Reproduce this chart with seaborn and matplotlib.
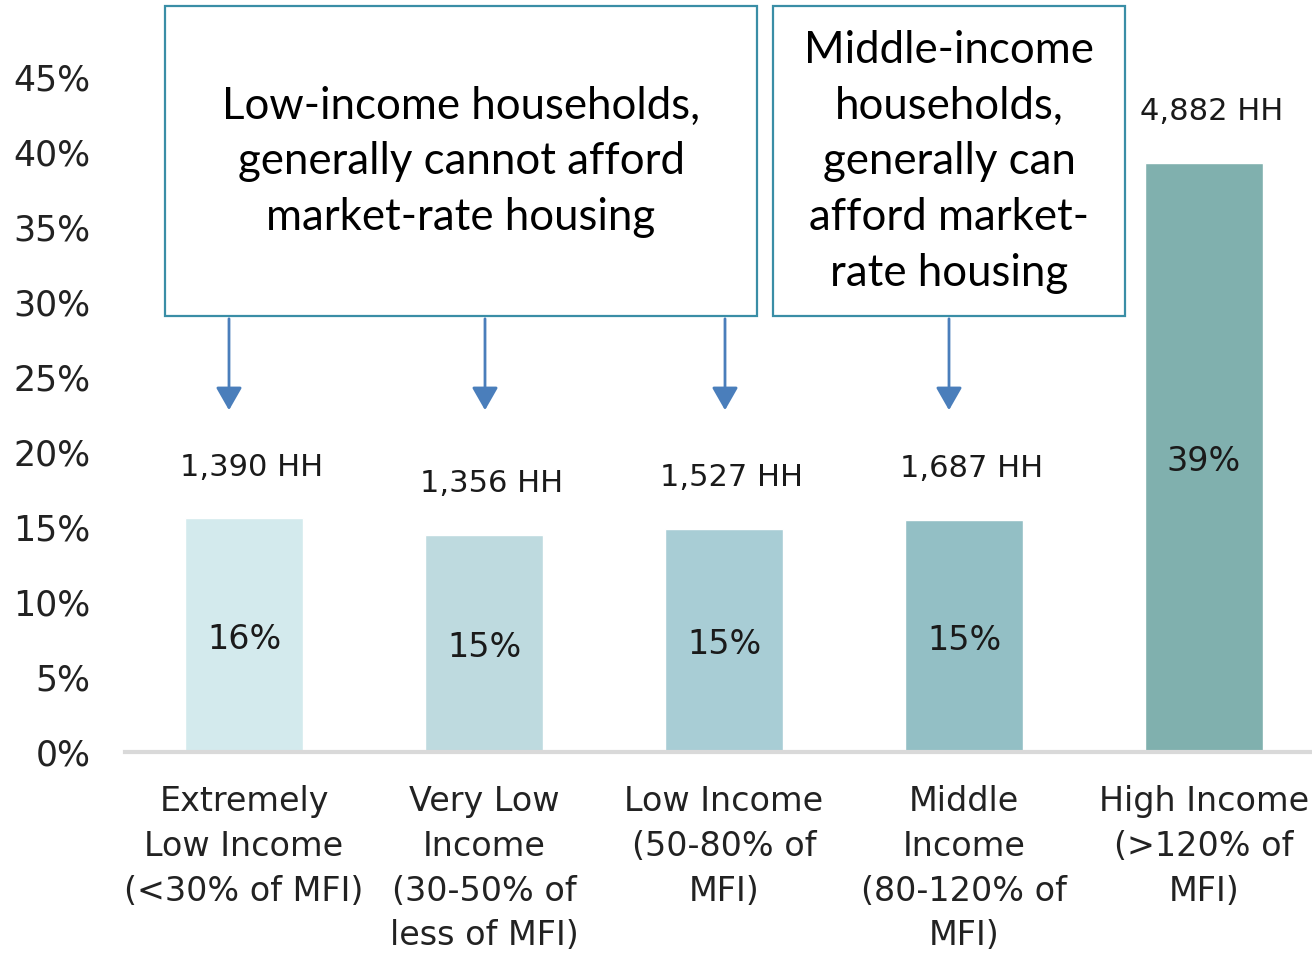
import matplotlib
matplotlib.use("Agg")
import matplotlib.pyplot as plt
import seaborn as sns
import pandas as pd
from matplotlib.patches import Rectangle, FancyArrowPatch

categories = ["Extremely\nLow Income\n(<30% of MFI)",
              "Very Low\nIncome\n(30-50% of\nless of MFI)",
              "Low Income\n(50-80% of\nMFI)",
              "Middle\nIncome\n(80-120% of\nMFI)",
              "High Income\n(>120% of\nMFI)"]
shares = [15.6, 14.5, 14.9, 15.5, 39.3]
share_labels = ["16%", "15%", "15%", "15%", "39%"]
hh_labels = ["1,390 HH", "1,356 HH", "1,527 HH", "1,687 HH", "4,882 HH"]
yticks = [0, 5, 10, 15, 20, 25, 30, 35, 40, 45]
colors = ["#d3eaed", "#bedadf", "#a8cdd5", "#93bfc5", "#80b0ae"]
box_texts = ["Low-income households,\ngenerally cannot afford\nmarket-rate housing",
             "Middle-income\nhouseholds,\ngenerally can\nafford market-\nrate housing"]

sns.set_theme(style="white")
plt.rcParams['font.family'] = ['DejaVu Sans']

W, H = 1312, 957
fig = plt.figure(figsize=(W / 100, H / 100), dpi=100)
fig.patch.set_facecolor("white")

def fx(px):
    return px / W

def fy(py):
    return 1 - py / H

ax = fig.add_axes([fx(125), fy(752), fx(1312) - fx(125), fy(77) - fy(752)])

df = pd.DataFrame({"cat": categories, "share": shares})
sns.barplot(data=df, x="cat", y="share", hue="cat", palette=colors,
            width=0.49, legend=False, ax=ax, saturation=1)

ax.set_xlim(-0.496, 4.45)
ax.set_ylim(0, 45)
ax.set_yticks(yticks)
ax.set_yticklabels([f"{v}%" for v in yticks], fontsize=25, color="#222222")
ax.tick_params(axis="y", length=0, pad=25)
ax.tick_params(axis="x", length=0, pad=24)
ax.set_xticks(range(len(categories)))
ax.set_xticklabels(categories, fontsize=24, color="#222222", linespacing=1.45,
                   va="top")
ax.set_xlabel("")
ax.set_ylabel("")
for s in ["top", "right", "left"]:
    ax.spines[s].set_visible(False)
ax.spines["bottom"].set_color("#d9d9d9")
ax.spines["bottom"].set_linewidth(3)
ax.set_facecolor("white")

for i, (v, sl, hl) in enumerate(zip(shares, share_labels, hh_labels)):
    ax.text(i, v / 2 - 0.3, sl, ha="center", va="center", fontsize=24, color="#1a1a1a")
    ax.text(i + 0.03, v + 3.4, hl, ha="center", va="center", fontsize=22,
            color="#1a1a1a", clip_on=False)

# Annotation boxes
boxes = [(165, 6, 757, 316), (773, 6, 1125, 316)]
for (x0, y0, x1, y1), txt in zip(boxes, box_texts):
    fig.patches.append(Rectangle((fx(x0), fy(y1)), fx(x1) - fx(x0), fy(y0) - fy(y1),
                                 transform=fig.transFigure, facecolor="white",
                                 edgecolor="#3a8ea6", linewidth=1.6))
    fig.text(fx((x0 + x1) / 2), fy(162), txt, ha="center", va="center",
             fontsize=31.5, family=["Lato", "DejaVu Sans"], color="#000000",
             linespacing=1.45)

for xa in [229, 485, 725, 949]:
    arr = FancyArrowPatch((fx(xa), fy(316)), (fx(xa), fy(413)),
                          transform=fig.transFigure, arrowstyle="-|>,head_length=7,head_width=4",
                          color="#4a7ebb", linewidth=2, mutation_scale=2)
    fig.patches.append(arr)

fig.savefig("out.png", dpi=100, facecolor="white")
